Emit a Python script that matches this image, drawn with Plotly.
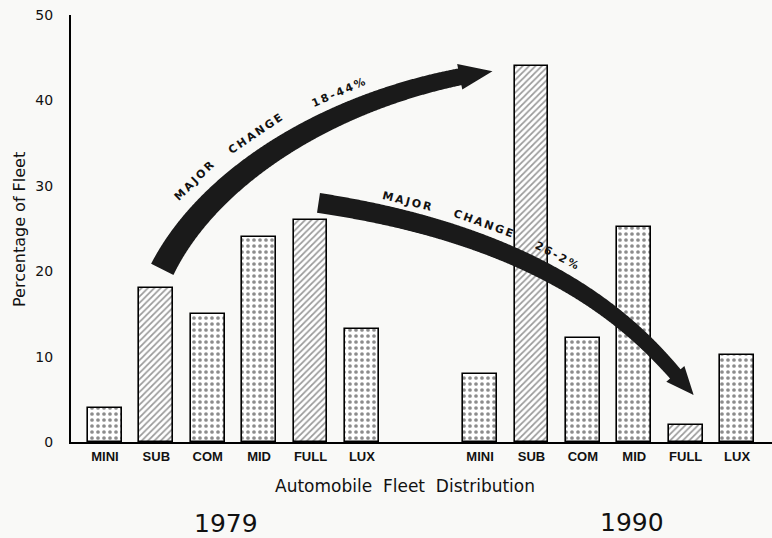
import numpy as np
import plotly.graph_objects as go

# ---- data --------------------------------------------------------------------
categories = ["MINI", "SUB", "COM", "MID", "FULL", "LUX"]
years = ["1979", "1990"]
fleet_1979 = [4, 18, 15, 24, 26, 13.2]
fleet_1990 = [8, 44, 12.2, 25.2, 2, 10.2]
y_ticks = [0, 10, 20, 30, 40, 50]
change_labels = ["18-44%", "26-2%"]

# ---- geometry / style -------------------------------------------------------
W, H = 772, 538
MARGIN = dict(l=71, r=0, t=15, b=96)
X_RANGE = (-0.66, 12.98)
Y_RANGE = (0, 50)
GROUP_GAP = 7.3
BAR_WIDTH = 0.66
PAPER = "#f9f9f7"
FONT = "DejaVu Sans"
HATCHED = {"SUB", "FULL"}
THIN = "\u2009"


def to_px(x, y):
    pw = W - MARGIN["l"] - MARGIN["r"]
    ph = H - MARGIN["t"] - MARGIN["b"]
    px = MARGIN["l"] + (x - X_RANGE[0]) / (X_RANGE[1] - X_RANGE[0]) * pw
    py = MARGIN["t"] + (Y_RANGE[1] - y) / (Y_RANGE[1] - Y_RANGE[0]) * ph
    return np.array([px, py])


def to_data(px, py):
    pw = W - MARGIN["l"] - MARGIN["r"]
    ph = H - MARGIN["t"] - MARGIN["b"]
    x = X_RANGE[0] + (px - MARGIN["l"]) / pw * (X_RANGE[1] - X_RANGE[0])
    y = Y_RANGE[1] - (py - MARGIN["t"]) / ph * (Y_RANGE[1] - Y_RANGE[0])
    return x, y


def unit(deg):
    r = np.radians(deg)
    return np.array([np.cos(r), np.sin(r)])


def bezier(ctrl, t):
    t = np.atleast_1d(t)[:, None]
    p0, p1, p2, p3 = ctrl
    pts = (1 - t) ** 3 * p0 + 3 * (1 - t) ** 2 * t * p1 + 3 * (1 - t) * t ** 2 * p2 + t ** 3 * p3
    der = 3 * (1 - t) ** 2 * (p1 - p0) + 6 * (1 - t) * t * (p2 - p1) + 3 * t ** 2 * (p3 - p2)
    der = der / np.linalg.norm(der, axis=1)[:, None]
    return pts, der


def make_ctrl(p0, ang0, a, p3, ang3, b):
    return [p0, p0 + a * unit(ang0), p3 - b * unit(ang3), p3]


def arrow_shape(ctrl, w0, w1, head_w, head_len):
    ts = np.linspace(0, 1, 500)
    pts, _ = bezier(ctrl, ts)
    seg = np.hypot(*np.diff(pts, axis=0).T)
    cum = np.concatenate([[0], np.cumsum(seg)])
    idx = np.searchsorted(cum, cum[-1] - head_len)
    ts_shaft = ts[:idx + 1]
    c, d = bezier(ctrl, ts_shaft)
    n = np.stack([d[:, 1], -d[:, 0]], axis=1)
    w = np.linspace(w0, w1, len(ts_shaft))[:, None]
    left, right = c + n * w, c - n * w
    hl, hr = c[-1] + n[-1] * head_w, c[-1] - n[-1] * head_w
    poly = list(left) + [hl, ctrl[3], hr] + list(right[::-1])
    coords = [to_data(*p) for p in poly]
    return "M " + " L ".join(f"{x:.4f},{y:.4f}" for x, y in coords) + " Z"


def label_on(ctrl, t, offset):
    c, d = bezier(ctrl, t)
    c, d = c[0], d[0]
    n = np.array([d[1], -d[0]])
    pos = c + n * offset
    return to_data(*pos), np.degrees(np.arctan2(d[1], d[0]))


def spaced(word):
    return THIN.join(word)


x_1979 = [i for i in range(len(categories))]
x_1990 = [i + GROUP_GAP for i in range(len(categories))]

shapes_pattern = ["/" if c in HATCHED else "." for c in categories]
fg_pattern = ["#333333" if c in HATCHED else "#1a1a1a" for c in categories]
size_pattern = [4.5 if c in HATCHED else 6 for c in categories]
solid_pattern = [0.38 if c in HATCHED else 0.3 for c in categories]

fig = go.Figure()
for xs, vals, yr in [(x_1979, fleet_1979, years[0]), (x_1990, fleet_1990, years[1])]:
    fig.add_trace(go.Bar(
        x=xs, y=vals, name=yr, width=BAR_WIDTH,
        marker=dict(color="white", line=dict(color="black", width=1.6),
                    pattern=dict(shape=shapes_pattern, fgcolor=fg_pattern, bgcolor="white",
                                 size=size_pattern, solidity=solid_pattern)),
        showlegend=False, hoverinfo="skip",
    ))

# ---- curved "major change" arrows --------------------------------------------
i_sub, i_full = categories.index("SUB"), categories.index("FULL")
arrow1 = make_ctrl(to_px(x_1979[i_sub], fleet_1979[i_sub]) + [6, -19], -63.4, 110,
                   to_px(x_1990[i_sub], fleet_1990[i_sub]) + [-39, 5], -8, 150)
arrow2 = make_ctrl(to_px(x_1979[i_full], fleet_1979[i_full]) + [8, -17], 8.5, 270,
                   to_px(x_1990[i_full], fleet_1990[i_full]) + [8, -30], 47, 50)

shapes = [
    dict(type="path", xref="x", yref="y", layer="above", fillcolor="#1a1a1a", line=dict(width=0),
         path=arrow_shape(arrow1, 12.5, 8.5, 13, 34)),
    dict(type="path", xref="x", yref="y", layer="above", fillcolor="#1a1a1a", line=dict(width=0),
         path=arrow_shape(arrow2, 10, 7, 12, 28)),
]

annotations = []
for ctrl, words in [(arrow1, [("MAJOR", 0.25, 27), ("CHANGE", 0.44, 25), (change_labels[0], 0.655, 21)]),
                    (arrow2, [("MAJOR", 0.115, 19), ("CHANGE", 0.235, 19), (change_labels[1], 0.38, 19)])]:
    for word, t, off in words:
        (ax, ay), ang = label_on(ctrl, t, off)
        annotations.append(dict(x=ax, y=ay, xref="x", yref="y", text=spaced(word), showarrow=False,
                                textangle=ang, font=dict(family=FONT, size=11, color="#111", weight="bold")))

# axis title, overall title and the year labels
annotations += [
    dict(x=0, y=0.4965, xref="paper", yref="paper", xshift=-51, xanchor="center", yanchor="middle",
         text="Percentage of Fleet", textangle=-90, showarrow=False,
         font=dict(family=FONT, size=16, color="#111")),
    dict(x=0.476, y=0, xref="paper", yref="paper", yshift=-44, xanchor="center", yanchor="middle",
         text="Automobile\u00a0\u00a0Fleet\u00a0\u00a0Distribution", showarrow=False,
         font=dict(family=FONT, size=17, color="#111")),
    dict(x=np.mean(x_1979), y=0, xref="x", yref="paper", xshift=-7, yshift=-81, text=years[0],
         showarrow=False, xanchor="center", yanchor="middle", font=dict(family=FONT, size=25, color="#111")),
    dict(x=np.mean(x_1990), y=0, xref="x", yref="paper", xshift=23, yshift=-80, text=years[1],
         showarrow=False, xanchor="center", yanchor="middle", font=dict(family=FONT, size=25, color="#111")),
]

fig.update_layout(
    width=W, height=H, margin=MARGIN,
    paper_bgcolor=PAPER, plot_bgcolor=PAPER,
    bargap=0, shapes=shapes, annotations=annotations,
    font=dict(family=FONT, color="#111"),
)
fig.update_xaxes(range=list(X_RANGE), tickvals=x_1979 + x_1990, ticktext=categories + categories,
                 showgrid=False, zeroline=False, showline=True, linecolor="black", linewidth=2,
                 ticks="", ticklabelstandoff=1,
                 tickfont=dict(family="Liberation Sans", size=13, color="#111", weight="bold"))
fig.update_yaxes(range=list(Y_RANGE), tickvals=y_ticks, showgrid=False, zeroline=False,
                 showline=True, linecolor="black", linewidth=2, ticks="", ticklabelstandoff=13,
                 tickfont=dict(family=FONT, size=14, color="#111"))

# the page's default 8px body margin would shift the whole figure
fig.write_html("out.html", config={"displayModeBar": False},
               post_script="document.body.style.margin='0px';")
